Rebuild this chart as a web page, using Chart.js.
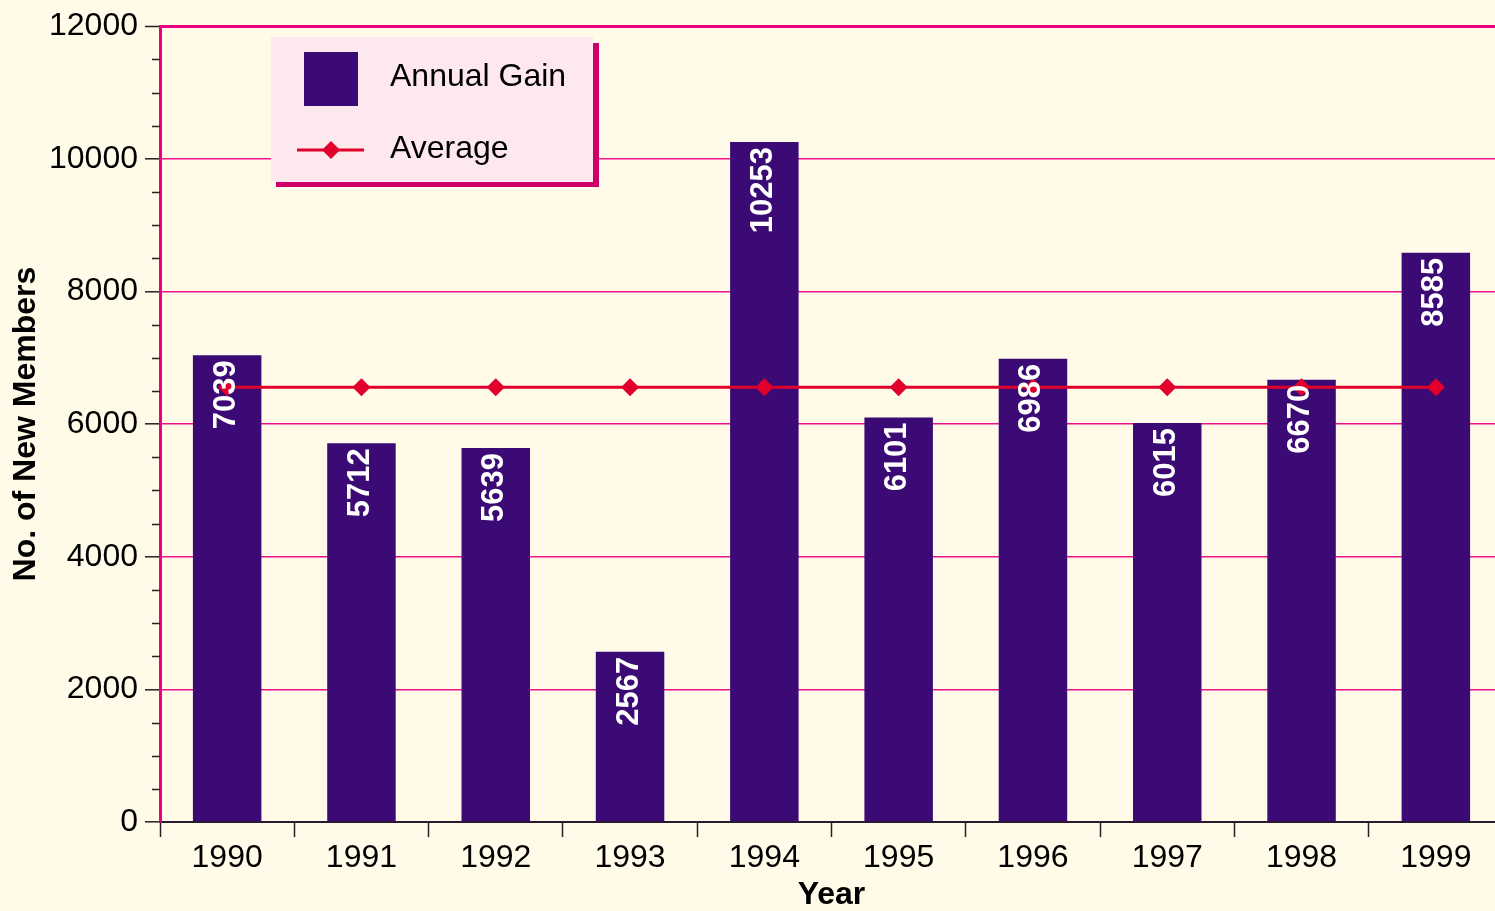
<!DOCTYPE html>
<html>
<head>
<meta charset="utf-8">
<script src="https://cdn.jsdelivr.net/npm/chart.js@4.4.0/dist/chart.umd.min.js"></script>
<style>
  html, body { margin: 0; padding: 0; background: #fffbe8; overflow: hidden; }
  #wrap { width: 1512px; height: 911px; }
</style>
</head>
<body>
<div id="wrap"><canvas id="chart" width="1512" height="911"></canvas></div>
<script>
// chart data
const years = ["1990", "1991", "1992", "1993", "1994", "1995", "1996", "1997", "1998", "1999"];
const annualGain = [7039, 5712, 5639, 2567, 10253, 6101, 6986, 6015, 6670, 8585];
const average = [6557, 6557, 6557, 6557, 6557, 6557, 6557, 6557, 6557, 6557];
const yMax = 12000;
const yStep = 2000;
const yMinorStep = 500;

const FONT = "'Liberation Sans', Arial, Helvetica, sans-serif";
const BG = "#fffbe8";
const BAR = "#3c0a74";
const RED = "#e0002b";
const MAGENTA = "#ea0080";
const GRID = "#f0108e";

// ================================
// BACKGROUND
// ================================
const background = {
  id: "background",
  beforeDraw(chart) {
    const ctx = chart.ctx;
    ctx.save();
    ctx.fillStyle = BG;
    ctx.fillRect(0, 0, chart.width, chart.height);
    ctx.restore();
  },
};

// ================================
// MINOR Y TICKS
// ================================
const minorTicks = {
  id: "minorTicks",
  afterDraw(chart) {
    const y = chart.scales.y;
    const ctx = chart.ctx;
    ctx.save();
    ctx.strokeStyle = "#222";
    ctx.lineWidth = 1.5;
    for (let v = 0; v <= yMax; v += yMinorStep) {
      if (v % yStep === 0) continue;
      const py = Math.round(y.getPixelForValue(v)) + 0.5;
      ctx.beginPath();
      ctx.moveTo(y.right - 8, py);
      ctx.lineTo(y.right, py);
      ctx.stroke();
    }
    ctx.restore();
  },
};

// ================================
// VALUE LABELS ON BARS
// ================================
const barLabels = {
  id: "barLabels",
  afterDatasetsDraw(chart) {
    const idx = chart.data.datasets.findIndex((d) => d.type === "bar");
    const meta = chart.getDatasetMeta(idx);
    const ctx = chart.ctx;
    ctx.save();
    ctx.fillStyle = "#ffffff";
    ctx.font = "bold 31px " + FONT;
    ctx.textAlign = "right";
    ctx.textBaseline = "middle";
    meta.data.forEach((bar, i) => {
      ctx.save();
      ctx.translate(bar.x - 1, bar.y + 5);
      ctx.rotate(-Math.PI / 2);
      ctx.fillText(String(chart.data.datasets[idx].data[i]), 0, 0);
      ctx.restore();
    });
    ctx.restore();
  },
};

// ================================
// LEGEND BOX
// ================================
const legendBox = {
  id: "legendBox",
  afterDraw(chart) {
    const ctx = chart.ctx;
    const bar = chart.data.datasets.find((d) => d.type === "bar");
    const line = chart.data.datasets.find((d) => d.type === "line");
    ctx.save();
    ctx.fillStyle = "#cc0066";
    ctx.fillRect(276, 43, 323, 144);
    ctx.fillStyle = "#fde8ee";
    ctx.fillRect(271, 37, 322, 145);

    ctx.fillStyle = bar.backgroundColor;
    ctx.fillRect(304, 52, 54, 54);

    ctx.strokeStyle = line.borderColor;
    ctx.lineWidth = 3;
    ctx.beginPath();
    ctx.moveTo(297, 150);
    ctx.lineTo(364, 150);
    ctx.stroke();
    ctx.fillStyle = line.pointBackgroundColor;
    ctx.beginPath();
    ctx.moveTo(331, 141);
    ctx.lineTo(340, 150);
    ctx.lineTo(331, 159);
    ctx.lineTo(322, 150);
    ctx.closePath();
    ctx.fill();

    ctx.fillStyle = "#000";
    ctx.font = "32px " + FONT;
    ctx.textAlign = "left";
    ctx.textBaseline = "middle";
    ctx.fillText(bar.label, 390, 77);
    ctx.fillText(line.label, 390, 149);
    ctx.restore();
  },
};

new Chart(document.getElementById("chart"), {
  data: {
    labels: years,
    datasets: [
      {
        type: "line",
        label: "Average",
        data: average,
        order: 0,
        borderColor: RED,
        borderWidth: 3,
        pointStyle: "rectRot",
        pointRadius: 9,
        pointBackgroundColor: RED,
        pointBorderColor: RED,
        pointBorderWidth: 0,
        tension: 0,
      },
      {
        type: "bar",
        label: "Annual Gain",
        data: annualGain,
        order: 1,
        backgroundColor: BAR,
        categoryPercentage: 1,
        barPercentage: 0.51,
      },
    ],
  },
  options: {
    responsive: false,
    devicePixelRatio: 1,
    animation: false,
    layout: { padding: { top: 21, right: 0, left: 0, bottom: 0 } },
    plugins: {
      legend: { display: false },
      tooltip: { enabled: false },
    },
    scales: {
      x: {
        grid: {
          offset: true,
          drawOnChartArea: false,
          tickLength: 15,
          tickColor: "#222",
          tickWidth: 1.5,
        },
        border: { color: "#2a1a2e", width: 2 },
        ticks: {
          color: "#000",
          font: { family: FONT, size: 32 },
          padding: 2,
          maxRotation: 0,
        },
        title: {
          display: true,
          text: "Year",
          color: "#000",
          font: { family: FONT, size: 32, weight: "bold", lineHeight: 1 },
          padding: { top: 0, bottom: 0 },
        },
        afterFit(scale) {
          scale.height = 89;
        },
      },
      y: {
        min: 0,
        max: yMax,
        grid: {
          color: (c) => (c.tick && c.tick.value === yMax ? MAGENTA : GRID),
          lineWidth: (c) => (c.tick && c.tick.value === yMax ? 3 : 1.6),
          tickLength: 15,
          tickColor: "#222",
          tickWidth: 1.5,
        },
        border: { color: MAGENTA, width: 3 },
        ticks: {
          stepSize: yStep,
          color: "#000",
          font: { family: FONT, size: 32 },
          padding: 7,
          callback: (v) => String(v),
        },
        title: {
          display: true,
          text: "No. of New Members",
          color: "#000",
          font: { family: FONT, size: 32, weight: "bold", lineHeight: 1 },
          padding: { top: 10, bottom: 0 },
        },
        afterFit(scale) {
          scale.width = 160;
        },
      },
    },
  },
  plugins: [background, minorTicks, barLabels, legendBox],
});
</script>
</body>
</html>
